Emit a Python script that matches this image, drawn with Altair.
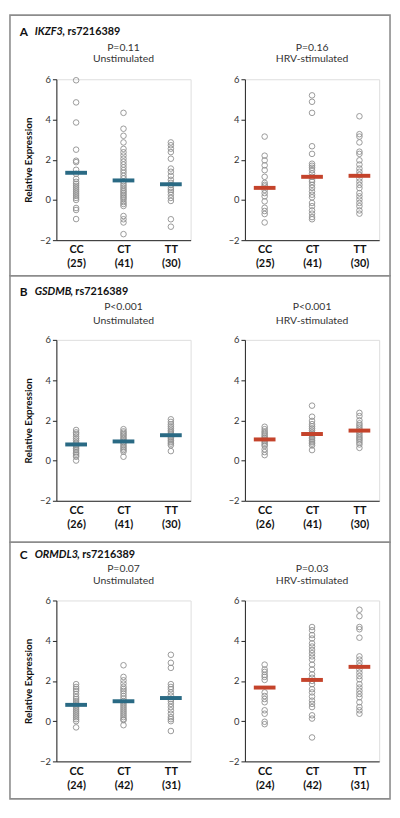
import altair as alt
import pandas as pd

genotypes = ["CC", "CT", "TT"]
conditions = ["Unstimulated", "HRV-stimulated"]

panel_letters = ["A", "B", "C"]
panel_genes = ["IKZF3", "GSDMB", "ORMDL3"]
panel_snp = ", rs7216389"

p_values = [["P=0.11", "P=0.16"], ["P<0.001", "P<0.001"], ["P=0.07", "P=0.03"]]
counts = [[25, 41, 30], [26, 41, 30], [24, 42, 31]]

# ---- Panel A: IKZF3 ----
a_un_cc = [5.95, 4.85, 3.85, 2.5, 1.95, 1.88, 1.5, 1.3, 1.05, 0.9, 0.8, 0.7, 0.6, 0.5, 0.4, 0.3, 0.2, 0.1, 0.0, -0.4, -0.5, -0.95]
a_un_ct = [4.33, 3.54, 3.19, 2.86, 2.54, 2.37, 2.21, 2.05, 1.9, 1.76, 1.62, 1.48, 1.35, 1.2, 1.07, 0.92, 0.8, 0.7, 0.6, 0.5, 0.42, 0.34, 0.26, 0.18, 0.1, 0.02, -0.1, -0.2, -0.3, -0.8, -0.96, -1.12, -1.7]
a_un_tt = [2.86, 2.72, 2.55, 2.38, 2.05, 1.56, 1.4, 1.2, 1.0, 0.85, 0.75, 0.6, 0.5, 0.4, 0.26, 0.1, -0.05, -0.96, -1.33]
a_un_mean = [1.35, 0.97, 0.78]
a_hrv_cc = [3.15, 2.2, 1.97, 1.72, 1.48, 1.15, 0.85, 0.75, 0.67, 0.5, 0.34, 0.18, -0.07, -0.39, -0.55, -0.7, -1.12]
a_hrv_ct = [5.2, 4.88, 4.33, 2.67, 2.29, 1.8, 1.7, 1.6, 1.48, 1.32, 1.15, 1.0, 0.9, 0.75, 0.6, 0.42, 0.26, 0.13, -0.15, -0.31, -0.52, -0.68, -0.85, -0.96]
a_hrv_tt = [4.16, 3.27, 3.15, 2.86, 2.4, 2.29, 1.97, 1.76, 1.56, 1.4, 1.25, 1.07, 0.91, 0.75, 0.59, 0.34, 0.18, 0.02, -0.15, -0.31, -0.52, -0.68]
a_hrv_mean = [0.6, 1.15, 1.2]

# ---- Panel B: GSDMB ----
b_un_cc = [1.52, 1.4, 1.32, 1.2, 1.1, 1.0, 0.9, 0.84, 0.75, 0.68, 0.6, 0.52, 0.42, 0.35, 0.27, 0.19, 0.0]
b_un_ct = [1.56, 1.45, 1.38, 1.3, 1.24, 1.15, 1.08, 1.0, 0.92, 0.85, 0.76, 0.68, 0.6, 0.52, 0.44, 0.19]
b_un_tt = [2.05, 1.92, 1.8, 1.7, 1.6, 1.5, 1.42, 1.33, 1.24, 1.15, 1.08, 1.0, 0.92, 0.84, 0.76, 0.47]
b_un_mean = [0.8, 0.95, 1.26]
b_hrv_cc = [1.68, 1.56, 1.45, 1.37, 1.28, 1.2, 1.12, 1.05, 0.97, 0.89, 0.8, 0.73, 0.56, 0.42, 0.27]
b_hrv_ct = [2.73, 2.18, 1.97, 1.81, 1.7, 1.6, 1.5, 1.4, 1.32, 1.24, 1.16, 1.08, 1.0, 0.92, 0.84, 0.75, 0.52]
b_hrv_tt = [2.37, 2.21, 2.0, 1.85, 1.75, 1.65, 1.55, 1.45, 1.35, 1.25, 1.16, 1.08, 1.0, 0.9, 0.8, 0.63]
b_hrv_mean = [1.05, 1.32, 1.49]

# ---- Panel C: ORMDL3 ----
c_un_cc = [1.84, 1.7, 1.6, 1.5, 1.35, 1.2, 1.1, 1.0, 0.9, 0.8, 0.7, 0.6, 0.5, 0.4, 0.3, 0.2, 0.1, 0.0, -0.31]
c_un_ct = [2.78, 2.2, 2.03, 1.87, 1.71, 1.6, 1.5, 1.38, 1.25, 1.12, 1.0, 0.9, 0.8, 0.7, 0.6, 0.5, 0.4, 0.3, 0.2, 0.1, 0.05, -0.2]
c_un_tt = [3.3, 2.9, 2.65, 1.84, 1.7, 1.59, 1.43, 1.27, 1.1, 1.0, 0.86, 0.7, 0.54, 0.37, 0.2, 0.1, 0.0, -0.49]
c_un_mean = [0.81, 0.99, 1.15]
c_hrv_cc = [2.81, 2.57, 2.45, 2.3, 2.2, 2.05, 1.43, 1.25, 1.1, 0.94, 0.54, 0.37, -0.03, -0.15]
c_hrv_ct = [4.68, 4.52, 4.28, 4.11, 3.87, 3.71, 3.54, 3.38, 3.22, 3.06, 2.81, 2.57, 2.33, 2.16, 2.0, 1.84, 1.59, 1.43, 1.22, 1.02, 0.86, 0.7, 0.29, 0.13, -0.81]
c_hrv_tt = [5.54, 5.22, 4.68, 4.57, 4.15, 3.22, 3.06, 2.89, 2.73, 2.57, 2.41, 2.24, 2.08, 1.84, 1.67, 1.51, 1.35, 1.19, 0.94, 0.7, 0.54, 0.37]
c_hrv_mean = [1.67, 2.05, 2.7]

panels = [
    [(a_un_cc, a_un_ct, a_un_tt, a_un_mean), (a_hrv_cc, a_hrv_ct, a_hrv_tt, a_hrv_mean)],
    [(b_un_cc, b_un_ct, b_un_tt, b_un_mean), (b_hrv_cc, b_hrv_ct, b_hrv_tt, b_hrv_mean)],
    [(c_un_cc, c_un_ct, c_un_tt, c_un_mean), (c_hrv_cc, c_hrv_ct, c_hrv_tt, c_hrv_mean)],
]

FONT = "Lato"
COLORS = ["#2a6a84", "#c4432b"]
W, H = 136, 163
HSPACE, VSPACE = 55, 101
# frame box per row (relative to left plot origin): top, bottom
box_rows = [(-65, 199), (-65, 205), (-59, 201)]
header_y = [-48, -48, -46]
title_y = [(-32, -20), (-33, -19), (-32, -20)]
gene_w = [28, 36, 43]


def make_chart(row, col):
    cc, ct, tt, means = panels[row][col]
    n = counts[row]
    df = pd.DataFrame({
        "genotype": ["CC"] * len(cc) + ["CT"] * len(ct) + ["TT"] * len(tt),
        "value": cc + ct + tt,
    })
    mdf = pd.DataFrame({"genotype": genotypes, "mean": means})
    label_expr = ("datum.value == 'CC' ? ['CC', '(%d)'] : datum.value == 'CT' ? "
                  "['CT', '(%d)'] : ['TT', '(%d)']" % (n[0], n[1], n[2]))
    xscale = alt.Scale(type="point", domain=genotypes, padding=0.4167)
    xenc = alt.X("genotype:N", scale=xscale,
                 axis=alt.Axis(title=None, ticks=False, labelAngle=0, labelExpr=label_expr,
                               labelFontWeight="bold", labelFontSize=11, labelLineHeight=14,
                               labelColor="#111", labelPadding=4, domainColor="#222",
                               domainWidth=1))
    yaxis = alt.Axis(values=[-2, 0, 2, 4, 6], grid=False, tickSize=4, tickColor="#222",
                     domainColor="#222", labelFontSize=9.5, labelColor="#333", labelPadding=2,
                     title="Relative Expression" if col == 0 else None,
                     titleFontWeight="bold", titleFontSize=10, titleColor="#111",
                     titlePadding=6)
    yscale = alt.Scale(domain=[-2, 6])
    pts = alt.Chart(df).mark_point(shape="circle", filled=False, size=32, strokeWidth=0.9,
                                   color="#8f8f8f", opacity=1).encode(
        x=xenc, y=alt.Y("value:Q", scale=yscale, axis=yaxis))
    bars = alt.Chart(mdf).mark_tick(thickness=4, size=22, color=COLORS[col], opacity=1).encode(
        x=alt.X("genotype:N", scale=xscale),
        y=alt.Y("mean:Q", scale=yscale))
    one = pd.DataFrame({"k": [0]})
    ty1, ty2 = title_y[row]
    t1 = alt.Chart(one).mark_text(align="center", baseline="middle", fontSize=10.5,
                                  font=FONT, color="#333").encode(
        x=alt.value(W / 2), y=alt.value(ty1), text=alt.value(p_values[row][col]))
    t2 = alt.Chart(one).mark_text(align="center", baseline="middle", fontSize=10.5,
                                  font=FONT, color="#333").encode(
        x=alt.value(W / 2), y=alt.value(ty2), text=alt.value(conditions[col]))
    layers = [pts, bars, t1, t2]
    if col == 0:
        top, bot = box_rows[row]
        box = alt.Chart(one).mark_rect(fillOpacity=0, stroke="#8c8c8c", strokeWidth=1.6).encode(
            x=alt.value(-47), x2=alt.value(338), y=alt.value(top), y2=alt.value(bot))
        hy = header_y[row]
        letter = alt.Chart(one).mark_text(align="left", baseline="middle", fontWeight="bold",
                                          fontSize=12, font=FONT, color="#111").encode(
            x=alt.value(-37), y=alt.value(hy), text=alt.value(panel_letters[row]))
        gene = alt.Chart(one).mark_text(align="left", baseline="middle", fontWeight="bold",
                                        fontStyle="italic", fontSize=11, font=FONT,
                                        color="#111").encode(
            x=alt.value(-22), y=alt.value(hy), text=alt.value(panel_genes[row]))
        snp = alt.Chart(one).mark_text(align="left", baseline="middle", fontWeight="bold",
                                       fontSize=11, font=FONT, color="#111").encode(
            x=alt.value(-22 + gene_w[row]), y=alt.value(hy), text=alt.value(panel_snp))
        layers = [box] + layers + [letter, gene, snp]
    return alt.layer(*layers).properties(width=W, height=H)


cells = []
for r in range(3):
    for c in range(2):
        cells.append(make_chart(r, c))

chart = alt.concat(*cells, columns=2, spacing={"row": VSPACE, "column": HSPACE},
                   bounds="flush").properties(
    padding=0, background="white"
).configure_view(stroke="transparent").configure(font=FONT)

chart.save("out.html", embed_options={"renderer": "svg", "actions": False})
